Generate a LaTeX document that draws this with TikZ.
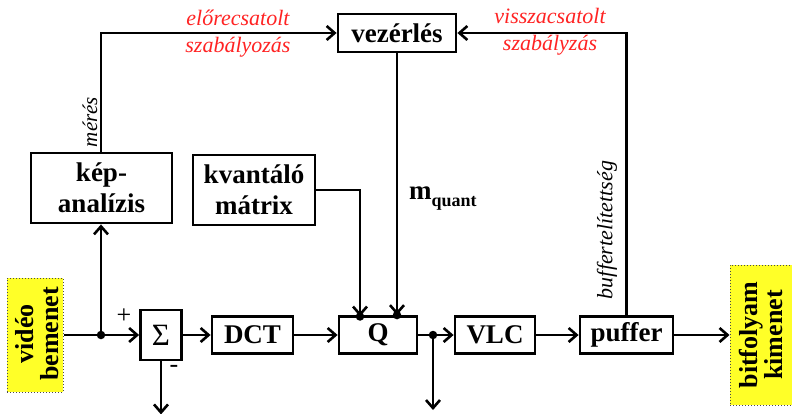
\documentclass[tikz,border=0pt]{standalone}
\usepackage{fontspec}
\setmainfont{Liberation Serif}
\usetikzlibrary{arrows.meta}
\definecolor{lblred}{RGB}{255,35,35}
\definecolor{ylw}{RGB}{255,255,40}
\begin{document}
\begin{tikzpicture}[x=1pt,y=-1pt,
  blk/.style={draw, line width=2.8pt, inner sep=0pt, font=\fontsize{27}{31}\selectfont\bfseries, align=center},
  io/.style={fill=ylw, draw=black!70, dotted, line width=1pt, inner sep=0pt},
  iotxt/.style={rotate=90, align=center, font=\fontsize{26}{25}\selectfont\bfseries, inner sep=0pt},
  conn/.style={line width=2.6pt, -{Straight Barb[length=8pt,width=14pt]}},
  redlbl/.style={text=lblred, align=center, font=\fontsize{22}{27}\selectfont\itshape, inner sep=0pt},
  sidelbl/.style={rotate=90, inner sep=0pt},
  jdot/.style={circle, fill, inner sep=0pt, minimum size=8.5pt},
]
\useasboundingbox (0,0) rectangle (792,414);

% blocks
\node[blk, minimum width=118pt, minimum height=38pt] (vez) at (397,33) {vezérlés};
\node[blk, minimum width=141pt, minimum height=70pt] (kep) at (101.5,188) {kép-\\analízis};
\node[blk, minimum width=122pt, minimum height=70pt] (kvm) at (254,190) {kvantáló\\mátrix};
\node[blk, minimum width=41pt, minimum height=50pt, font=\fontsize{31}{31}\selectfont] (sum) at (161,335) {Σ};
\node[blk, minimum width=81pt, minimum height=37pt] (dct) at (252.5,335) {DCT};
\node[blk, minimum width=78pt, minimum height=37pt] (q) at (378,335) {Q};
\node[blk, minimum width=80pt, minimum height=37pt] (vlc) at (495,335) {VLC};
\node[blk, minimum width=93pt, minimum height=37pt] (puf) at (626.5,335) {puffer};

% input / output
\node[io, minimum width=56pt, minimum height=114pt] (vin) at (35,335) {};
\node[iotxt] (vintxt) at (37,334) {vidéo\\bemenet};
\node[io, minimum width=62pt, minimum height=140pt] (vout) at (761,335) {};
\node[iotxt] (vouttxt) at (761,335) {bitfolyam\\kimenet};

% junctions
\coordinate (j1) at (101,335);
\coordinate (j2) at (433,335);
\coordinate (qa) at (360,316.5);
\coordinate (qb) at (vez.south |- q.north);

% connectors
\draw[conn] (vin.east) -- (sum.west);
\draw[conn] (j1) -- (j1 |- kep.south);
\draw[conn] (j1 |- kep.north) |- (vez.west);
\draw[conn] (sum.east) -- (dct.west);
\draw[conn] (dct.east) -- (q.west);
\draw[conn] (q.east) -- (vlc.west);
\draw[conn] (j2) -- ++(0,75);
\draw[conn] (sum.south) -- ++(0,53);
\draw[conn] (vlc.east) -- (puf.west);
\draw[conn] (puf.east) -- (vout.west);
\draw[conn] (puf.north) |- (vez.east);
\draw[conn] (kvm.east) -| (qa);
\draw[conn] (vez.south) -- (qb);

\node[jdot] (d1) at (j1) {};
\node[jdot] (d2) at (j2) {};
\node[jdot] (d3) at (qa) {};
\node[jdot] (d4) at (qb) {};

% labels
\node[redlbl] (ff) at (238,34) {előrecsatolt\\szabályozás};
\node[redlbl] (fb) at (550,32) {visszacsatolt\\szabályzás};
\node[sidelbl, font=\fontsize{21}{25}\selectfont\itshape] (meres) at (90,122) {mérés};
\node[sidelbl, font=\fontsize{22}{25}\selectfont\itshape] (buf) at (607,230) {buffertelítettség};
\node[anchor=base west, inner sep=0pt, font=\fontsize{27}{31}\selectfont\bfseries] (mq) at (409,200) {m\raisebox{-7pt}{\fontsize{18}{18}\selectfont quant}};
\node[font=\fontsize{26}{26}\selectfont] (plus) at (124,316) {+};
\node[font=\fontsize{26}{26}\selectfont] (minus) at (174,369) {-};
\end{tikzpicture}
\end{document}
